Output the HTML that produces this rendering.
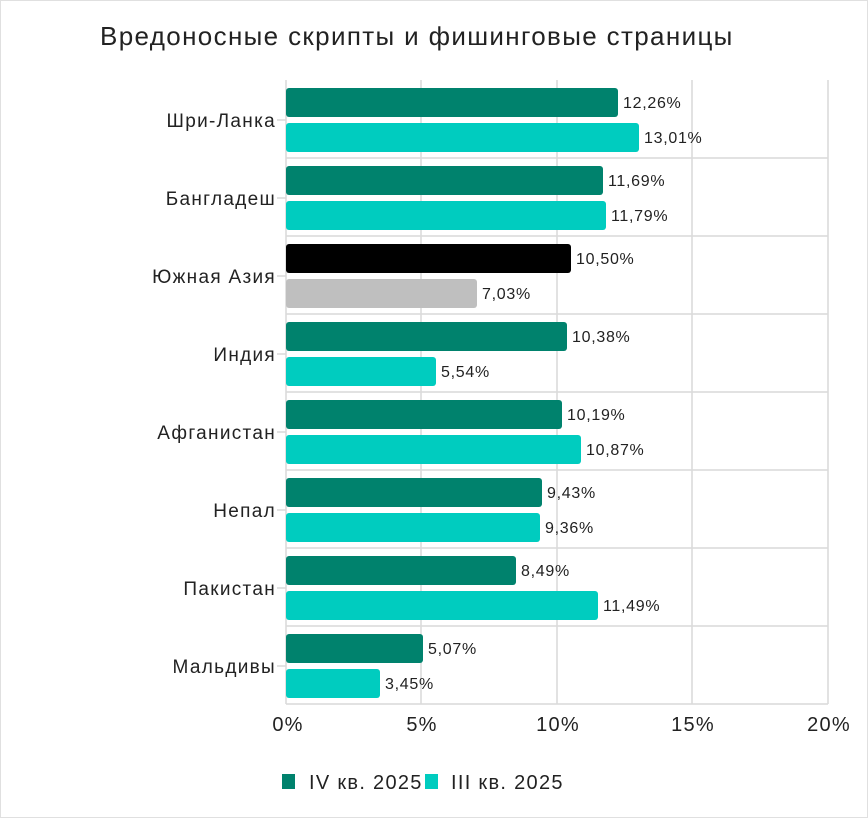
<!DOCTYPE html><html><head><meta charset="utf-8"><style>body{margin:0;background:#fff}svg{display:block}text{font-family:"Liberation Sans",sans-serif;fill:#222}</style></head><body>
<svg width="868" height="820" viewBox="0 0 868 820">
<rect x="0.5" y="0.5" width="867" height="817" fill="#fff" stroke="#e0e0e0"/>
<text x="100" y="45" font-size="26" letter-spacing="1.35">Вредоносные скрипты и фишинговые страницы</text>
<g stroke="#d9d9d9" stroke-width="1.5">
<line x1="421" y1="80" x2="421" y2="704"/><line x1="557" y1="80" x2="557" y2="704"/><line x1="692" y1="80" x2="692" y2="704"/><line x1="828" y1="80" x2="828" y2="704"/>
<line x1="286" y1="158" x2="828" y2="158"/><line x1="286" y1="236" x2="828" y2="236"/><line x1="286" y1="314" x2="828" y2="314"/><line x1="286" y1="392" x2="828" y2="392"/><line x1="286" y1="470" x2="828" y2="470"/><line x1="286" y1="548" x2="828" y2="548"/><line x1="286" y1="626" x2="828" y2="626"/>
<line x1="286" y1="704" x2="828" y2="704"/><line x1="286" y1="80" x2="286" y2="704"/>
<line x1="277" y1="120" x2="286" y2="120"/><line x1="277" y1="198" x2="286" y2="198"/><line x1="277" y1="276" x2="286" y2="276"/><line x1="277" y1="354" x2="286" y2="354"/><line x1="277" y1="432" x2="286" y2="432"/><line x1="277" y1="510" x2="286" y2="510"/><line x1="277" y1="588" x2="286" y2="588"/><line x1="277" y1="666" x2="286" y2="666"/>
</g>
<g font-size="19" text-anchor="end" letter-spacing="1.3">
<text x="276" y="127">Шри-Ланка</text><text x="276" y="205">Бангладеш</text><text x="276" y="283">Южная Азия</text><text x="276" y="361">Индия</text><text x="276" y="439">Афганистан</text><text x="276" y="517">Непал</text><text x="276" y="595">Пакистан</text><text x="276" y="673">Мальдивы</text>
</g>
<g>
<rect x="286" y="88" width="332" height="29" rx="3" fill="#00826d"/><rect x="286" y="123" width="353" height="29" rx="3" fill="#00ccbf"/>
<rect x="286" y="166" width="317" height="29" rx="3" fill="#00826d"/><rect x="286" y="201" width="320" height="29" rx="3" fill="#00ccbf"/>
<rect x="286" y="244" width="285" height="29" rx="3" fill="#000"/><rect x="286" y="279" width="191" height="29" rx="3" fill="#bfbfbf"/>
<rect x="286" y="322" width="281" height="29" rx="3" fill="#00826d"/><rect x="286" y="357" width="150" height="29" rx="3" fill="#00ccbf"/>
<rect x="286" y="400" width="276" height="29" rx="3" fill="#00826d"/><rect x="286" y="435" width="295" height="29" rx="3" fill="#00ccbf"/>
<rect x="286" y="478" width="256" height="29" rx="3" fill="#00826d"/><rect x="286" y="513" width="254" height="29" rx="3" fill="#00ccbf"/>
<rect x="286" y="556" width="230" height="29" rx="3" fill="#00826d"/><rect x="286" y="591" width="312" height="29" rx="3" fill="#00ccbf"/>
<rect x="286" y="634" width="137" height="29" rx="3" fill="#00826d"/><rect x="286" y="669" width="94" height="29" rx="3" fill="#00ccbf"/>
</g>
<g font-size="16" letter-spacing="0.7">
<text x="623" y="108">12,26%</text><text x="644" y="143">13,01%</text>
<text x="608" y="186">11,69%</text><text x="611" y="221">11,79%</text>
<text x="576" y="264">10,50%</text><text x="482" y="299">7,03%</text>
<text x="572" y="342">10,38%</text><text x="441" y="377">5,54%</text>
<text x="567" y="420">10,19%</text><text x="586" y="455">10,87%</text>
<text x="547" y="498">9,43%</text><text x="545" y="533">9,36%</text>
<text x="521" y="576">8,49%</text><text x="603" y="611">11,49%</text>
<text x="428" y="654">5,07%</text><text x="385" y="689">3,45%</text>
</g>
<g font-size="20" text-anchor="middle" letter-spacing="1.2">
<text x="288" y="731">0%</text><text x="422" y="731">5%</text><text x="558" y="731">10%</text><text x="693" y="731">15%</text><text x="829" y="731">20%</text>
</g>
<rect x="282" y="774" width="13" height="15" fill="#00826d"/><text x="309" y="789" font-size="20" letter-spacing="1.3">IV кв. 2025</text>
<rect x="425" y="774" width="13" height="15" fill="#00ccbf"/><text x="451" y="789" font-size="20" letter-spacing="1.3">III кв. 2025</text>
</svg></body></html>
